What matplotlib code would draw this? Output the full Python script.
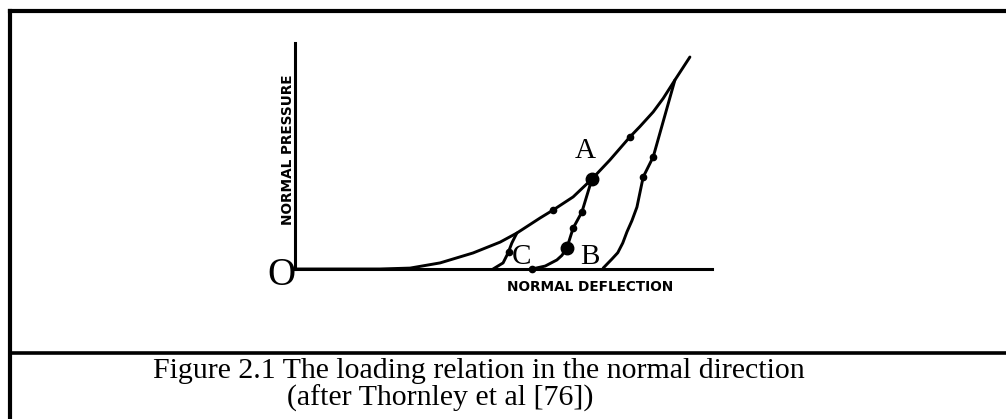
#! /usr/bin/env python3

import matplotlib
matplotlib.use('Agg')
import matplotlib.pyplot as plt
from matplotlib.lines import Line2D

# loading curve (deflection, pressure) from the origin up to the peak
load_x = [0.0, 2.04, 2.76, 3.48, 4.27, 4.92, 5.32, 5.88, 6.19, 6.67, 7.12,
          7.55, 8.03, 8.27, 8.59, 8.83, 9.11, 9.47]
load_y = [0.0, 0.0, 0.04, 0.27, 0.71, 1.19, 1.59, 2.26, 2.61, 3.19, 3.98,
          4.82, 5.84, 6.30, 6.95, 7.55, 8.36, 9.38]

# unloading from the peak
peak_x = [9.11, 8.59, 8.35, 8.20, 8.08, 7.96, 7.86, 7.74, 7.60, 7.39]
peak_y = [8.36, 4.96, 4.07, 2.74, 2.14, 1.64, 1.15, 0.72, 0.44, 0.04]

# unloading from A through B
a_x = [7.12, 6.88, 6.67, 6.52, 6.40, 6.28, 6.00, 5.68]
a_y = [3.98, 2.52, 1.81, 0.93, 0.60, 0.40, 0.13, 0.0]

# unloading branch through C
c_x = [5.32, 5.20, 5.11, 4.99, 4.75]
c_y = [1.59, 1.15, 0.71, 0.27, 0.0]

# direction marks along the paths
tick_x = [6.19, 8.03, 6.88, 6.67, 8.59, 8.35, 5.13, 5.68]
tick_y = [2.61, 5.84, 2.52, 1.81, 4.96, 4.07, 0.75, 0.0]

# named points
points = {'A': (7.12, 3.98), 'B': (6.52, 0.93)}
labels = {'A': (6.95, 5.20), 'B': (7.07, 0.53), 'C': (5.44, 0.53)}

W, H = 1006, 419
fig = plt.figure(figsize=(W / 100, H / 100), dpi=100)
fig.patch.set_facecolor('white')

#frame round the figure and the caption box
lx = 9.5 / W
ty = 1 - 11 / H
sy = 1 - 353 / H
fig.add_artist(Line2D([lx, lx], [0, ty], color='black', lw=3))
fig.add_artist(Line2D([lx, 1], [ty, ty], color='black', lw=3))
fig.add_artist(Line2D([lx, 1], [sy, sy], color='black', lw=2.6))

ax = fig.add_axes([295 / W, (H - 269) / H, 417 / W, 226 / H])
ax.set_xlim(0, 10)
ax.set_ylim(0, 10)
ax.set_facecolor('none')
for side in ['top', 'right']:
    ax.spines[side].set_visible(False)
for side in ['left', 'bottom']:
    ax.spines[side].set_linewidth(2.2)
ax.set_xticks([])
ax.set_yticks([])

lw = 2.1
for xs, ys in [(load_x, load_y), (peak_x, peak_y), (a_x, a_y), (c_x, c_y)]:
    ax.plot(xs, ys, color='black', lw=lw, clip_on=False,
            solid_capstyle='round', solid_joinstyle='round')

ax.plot(tick_x, tick_y, 'o', color='black', ms=4.5, clip_on=False)
for key in points:
    px, py = points[key]
    ax.plot(px, py, 'o', color='black', ms=9, clip_on=False)

serif = 'Liberation Serif'
for key in labels:
    tx, ty_ = labels[key]
    ax.text(tx, ty_, key, family=serif, fontsize=21, ha='center', va='center')
ax.text(-0.33, -0.30, 'O', family=serif, fontsize=28, ha='center',
        va='center', clip_on=False)

ax.text(-0.17, 5.27, 'NORMAL PRESSURE', family='DejaVu Sans',
        fontweight='bold', fontsize=9.8, rotation=90, ha='center', va='center')
ax.text(7.07, -0.80, 'NORMAL DEFLECTION', family='DejaVu Sans',
        fontweight='bold', fontsize=9.8, ha='center', va='center')

#caption
fig.text(153 / W, 1 - 371 / H,
         'Figure 2.1 The loading relation in the normal direction',
         family=serif, fontsize=21.5, ha='left', va='center')
fig.text(287 / W, 1 - 398 / H, '(after Thornley et al [76])',
         family=serif, fontsize=21.5, ha='left', va='center')

fig.savefig('out.png', dpi=100, facecolor='white')
